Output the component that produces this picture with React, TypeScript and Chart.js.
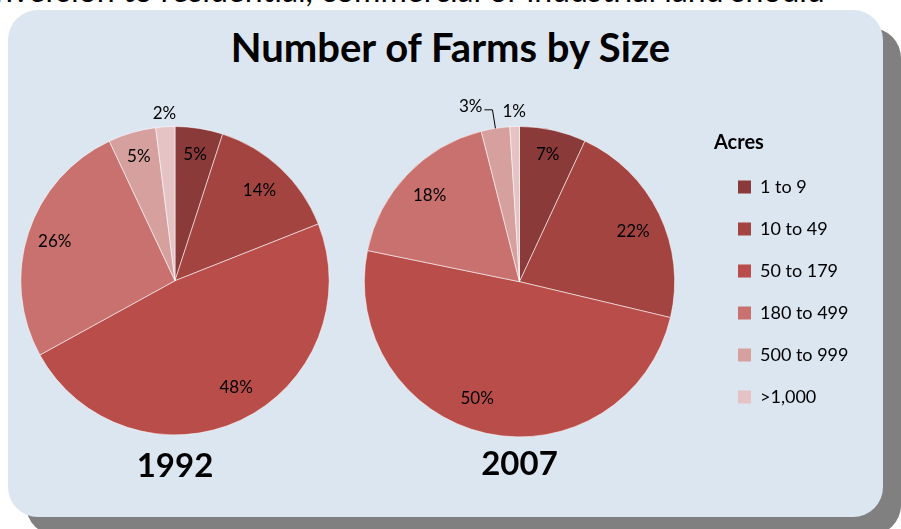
import React, { useEffect, useRef } from "react";
import { Chart, registerables } from "chart.js";

Chart.register(...registerables);

// ---- data ----
const sizeClasses = ["1 to 9", "10 to 49", "50 to 179", "180 to 499", "500 to 999", ">1,000"];
const shares1992 = [5, 14, 48, 26, 5, 2];
const shares2007 = [7, 22, 50, 18, 3, 1];
const year1992 = "1992";
const year2007 = "2007";
const chartTitle = "Number of Farms by Size";
const legendTitle = "Acres";
const pageTextAbove = "nversion to residential, commercial or industrial land should";

// ---- styles ----
const sliceColors = ["#8b3a3a", "#a44441", "#b94d4a", "#c8716f", "#d6a09f", "#e5c3c4"];
const labelRadius1992 = [0.83, 0.8, 0.8, 0.82, 0.84, 1.085];
const labelAngle1992 = [0, 0, -4.5, 0, 0, 0];
const labelRadius2007 = [0.84, 0.8, 0.8, 0.8, 1.17, 1.1];
const labelAngle2007 = [0, 2, 7.5, 0, -6.7, 0];
const leader1992 = [false, false, false, false, false, false];
const leader2007 = [false, false, false, false, true, false];
const FONT = "Lato, 'Open Sans', sans-serif";
const LEGEND_FONT_SIZE = 18;
const LEGEND_BOX = 13;
const LEGEND_PAD = 24;
const CANVAS2_W = 559;
const PIE2_AREA_W = 389;

const pieLabels = {
  id: "pieLabels",
  afterDatasetsDraw(chart: any, _args: any, opts: any) {
    const ctx = chart.ctx;
    const meta = chart.getDatasetMeta(0);
    const values = chart.data.datasets[0].data;
    ctx.save();
    ctx.font = `17px ${FONT}`;
    ctx.fillStyle = "#000";
    ctx.strokeStyle = "#000";
    ctx.lineWidth = 1;
    ctx.textAlign = "center";
    ctx.textBaseline = "middle";
    meta.data.forEach((arc: any, i: number) => {
      const p = arc.getProps(["x", "y", "startAngle", "endAngle", "outerRadius"], true);
      const mid = (p.startAngle + p.endAngle) / 2;
      const a = mid + ((opts.angle[i] || 0) * Math.PI) / 180;
      const r = p.outerRadius * opts.radius[i];
      const lx = p.x + Math.cos(a) * r;
      const ly = p.y + Math.sin(a) * r;
      const text = values[i] + "%";
      ctx.fillText(text, lx, ly);
      if (opts.leader[i]) {
        const w = ctx.measureText(text).width;
        const ex = p.x + Math.cos(mid) * p.outerRadius;
        const ey = p.y + Math.sin(mid) * p.outerRadius;
        const sx = lx + w / 2 + 2;
        const sy = ly + 3;
        ctx.beginPath();
        ctx.moveTo(sx, sy);
        ctx.lineTo(ex - 3, sy);
        ctx.lineTo(ex, ey);
        ctx.stroke();
      }
    });
    ctx.restore();
  },
};

function makeConfig(
  values: number[],
  year: string,
  radius: number[],
  angle: number[],
  leader: boolean[],
  withLegend: boolean,
  titlePadTop: number,
  padRight: number
): any {
  return {
    type: "pie",
    data: {
      labels: sizeClasses,
      datasets: [
        {
          data: values,
          backgroundColor: sliceColors,
          borderColor: "rgba(255,255,255,0.55)",
          borderWidth: 1,
        },
      ],
    },
    plugins: [pieLabels],
    options: {
      responsive: false,
      animation: false,
      devicePixelRatio: 1,
      events: [],
      layout: { padding: { top: 40, left: 0, right: padRight, bottom: 0 } },
      plugins: {
        tooltip: { enabled: false },
        pieLabels: { radius, angle, leader },
        title: {
          display: true,
          text: year,
          position: "bottom",
          fullSize: false,
          color: "#000",
          font: { family: FONT, size: 33, weight: "bold" },
          padding: { top: titlePadTop, bottom: 2 },
        },
        legend: withLegend
          ? {
              display: true,
              position: "right",
              align: "start",
              title: {
                display: true,
                text: legendTitle,
                position: "start",
                color: "#000",
                font: { family: FONT, size: 20, weight: "bold" },
                padding: { top: 7, bottom: -3 },
              },
              labels: {
                boxWidth: LEGEND_BOX,
                boxHeight: LEGEND_BOX,
                padding: LEGEND_PAD,
                color: "#000",
                font: { family: FONT, size: LEGEND_FONT_SIZE },
                generateLabels: (chart: any) =>
                  (Chart as any).overrides.pie.plugins.legend.labels
                    .generateLabels(chart)
                    .map((l: any) => ({ ...l, strokeStyle: l.fillStyle, lineWidth: 0 })),
              },
            }
          : { display: false },
      },
    },
  };
}

function legendNaturalWidth(): number {
  const c = document.createElement("canvas").getContext("2d")!;
  c.font = `${LEGEND_FONT_SIZE}px ${FONT}`;
  let maxW = 0;
  sizeClasses.forEach((s) => {
    maxW = Math.max(maxW, c.measureText(s).width);
  });
  return LEGEND_PAD + LEGEND_BOX + LEGEND_FONT_SIZE / 2 + maxW + 10;
}

export default function App() {
  const ref1 = useRef<HTMLCanvasElement>(null);
  const ref2 = useRef<HTMLCanvasElement>(null);

  useEffect(() => {
    const padRight2 = Math.max(0, CANVAS2_W - PIE2_AREA_W - legendNaturalWidth());
    const c1 = new Chart(
      ref1.current!,
      makeConfig(shares1992, year1992, labelRadius1992, labelAngle1992, leader1992, false, 11, 0)
    );
    const c2 = new Chart(
      ref2.current!,
      makeConfig(shares2007, year2007, labelRadius2007, labelAngle2007, leader2007, true, 7, padRight2)
    );
    return () => {
      c1.destroy();
      c2.destroy();
    };
  }, []);

  return (
    <div style={{ position: "absolute", left: 0, top: 0, width: 901, height: 529, overflow: "hidden", background: "#fff" }}>
      <div
        style={{
          position: "absolute",
          left: -5,
          top: -29,
          whiteSpace: "nowrap",
          font: `32px/38px ${FONT}`,
          color: "#000",
        }}
      >
        {pageTextAbove}
      </div>
      <div
        style={{
          position: "absolute",
          left: 8,
          top: 10,
          width: 875,
          height: 507,
          borderRadius: 30,
          background: "#dce6f1",
          boxShadow: "18px 18px 0 #808080",
        }}
      />
      <div
        style={{
          position: "absolute",
          left: 0,
          top: 23,
          width: 901,
          textAlign: "center",
          font: `bold 40px/48px ${FONT}`,
          color: "#000",
        }}
      >
        {chartTitle}
      </div>
      <canvas ref={ref1} width={320} height={402} style={{ position: "absolute", left: 15, top: 86, width: 320, height: 402 }} />
      <canvas
        ref={ref2}
        width={CANVAS2_W}
        height={400}
        style={{ position: "absolute", left: 325, top: 86, width: CANVAS2_W, height: 400 }}
      />
    </div>
  );
}
